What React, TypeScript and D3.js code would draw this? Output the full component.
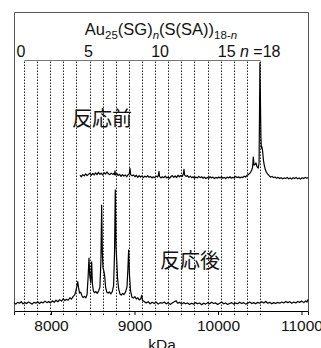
import { useRef, useEffect } from "react";
import * as d3 from "d3";

// bottom axis (mass) ticks
const massTicks = [8000, 9000, 10000, 11000];

// ligand exchange count n: Au25(SG)n(S(SA))18-n
const ligandN = [0, 1, 2, 3, 4, 5, 6, 7, 8, 9, 10, 11, 12, 13, 14, 15, 16, 17, 18];
const topTickN = [0, 5, 10, 15];
const massAtN0 = 7677;
const massPerN = 157;

// spectrum before reaction: [mass, intensity]
const beforeSpectrum = [
  [8347, 0.4], [8364, -0.1], [8381, 0.6], [8398, 0.2], [8415, 0.9], [8432, 0.3], [8449, 0.7], [8466, 1.1],
  [8483, 0.4], [8500, 1.0], [8517, 0.5], [8534, 1.2], [8551, 0.6], [8568, 1.4], [8585, 0.7], [8602, 1.1],
  [8619, 0.5], [8636, 1.3], [8653, 0.8], [8670, 1.5], [8687, 0.9], [8704, 0.6], [8721, 1.1], [8738, 0.7],
  [8752, 1.0], [8760, 0.6], [8766, 1.9], [8772, 0.5], [8788, 1.0], [8805, 0.3], [8822, 0.7], [8839, 0.0],
  [8856, 0.6], [8873, 0.1], [8890, 0.5], [8907, -0.1], [8924, 0.6], [8938, 0.9], [8946, 2.7], [8954, 0.6],
  [8971, 0.2], [8988, 0.5], [9005, -0.1], [9022, 0.4], [9039, -0.3], [9056, 0.3], [9073, -0.2], [9090, 0.2],
  [9107, -0.4], [9124, 0.1], [9141, -0.2], [9158, 0.3], [9175, -0.3], [9192, 0.0], [9209, -0.5], [9226, -0.1],
  [9243, -0.4], [9260, 0.1], [9277, -0.2], [9287, 0.5], [9293, 1.7], [9300, 0.0], [9317, -0.5], [9334, -0.1],
  [9351, -0.4], [9368, 0.1], [9385, -0.5], [9402, -0.2], [9419, -0.6], [9436, -0.1], [9453, 0.3], [9470, -0.3],
  [9487, 0.2], [9504, -0.4], [9521, 0.4], [9538, -0.1], [9555, 0.3], [9572, 0.0], [9586, 0.9], [9593, 2.4],
  [9600, 0.5], [9617, 0.0], [9634, 0.3], [9651, -0.3], [9668, 0.1], [9685, -0.4], [9702, -0.1], [9719, -0.6],
  [9736, -0.2], [9753, -0.5], [9770, 0.0], [9787, -0.4], [9804, -0.1], [9821, -0.6], [9838, -0.2], [9855, -0.7],
  [9872, -0.3], [9889, -0.6], [9906, -0.1], [9923, -0.5], [9940, -0.2], [9957, -0.7], [9974, -0.3], [9991, -0.6],
  [10008, -0.2], [10025, -0.5], [10042, -0.1], [10059, -0.6], [10076, -0.3], [10093, -0.7], [10110, -0.2], [10127, -0.5],
  [10144, -0.1], [10161, -0.6], [10178, -0.3], [10195, -0.5], [10212, 0.0], [10229, -0.4], [10246, -0.1], [10263, -0.5],
  [10280, -0.2], [10297, -0.4], [10314, 0.1], [10331, -0.2], [10346, 0.4], [10360, 0.5], [10374, 0.9], [10388, 1.3],
  [10402, 2.0], [10414, 3.0], [10423, 6.5], [10432, 3.8], [10443, 4.0], [10455, 4.5], [10468, 3.2], [10482, 2.8],
  [10492, 4.5], [10497, 20.0], [10502, 38.0], [10508, 26.0], [10514, 13.0], [10520, 9.5], [10526, 9.9], [10534, 8.6],
  [10544, 5.5], [10554, 3.8], [10566, 2.4], [10580, 1.4], [10596, 0.8], [10612, 0.3], [10630, -0.2], [10648, 0.0],
  [10666, -0.4], [10684, -0.2], [10702, -0.6], [10720, -0.3], [10738, -0.7], [10756, -0.4], [10774, -0.8], [10792, -0.5],
  [10810, -0.7], [10828, -0.3], [10846, -0.8], [10864, -0.5], [10882, -0.9], [10900, -0.4], [10918, -0.7], [10936, -0.3],
  [10954, -0.8], [10972, -0.5], [10990, -0.9], [11008, -0.4], [11026, -0.7], [11044, -0.3], [11062, -0.6], [11078, -0.4],
];

// spectrum after reaction: [mass, intensity]
const afterSpectrum = [
  [7557, 0.3], [7578, -0.2], [7600, 0.4], [7622, 0.1], [7644, 0.6], [7664, -0.1], [7686, 0.3], [7708, 0.0],
  [7730, 0.5], [7752, 0.2], [7774, -0.2], [7796, 0.4], [7818, 0.1], [7840, 0.6], [7862, 0.0], [7884, 0.5],
  [7906, 0.2], [7928, 0.8], [7950, 0.3], [7972, 0.7], [7994, 0.2], [8016, 0.9], [8038, 0.4], [8060, 1.1],
  [8082, 0.6], [8104, 1.3], [8126, 0.8], [8146, 1.6], [8166, 1.0], [8186, 1.4], [8206, 1.1], [8226, 1.9],
  [8246, 1.5], [8266, 2.4], [8284, 2.9], [8298, 4.2], [8310, 5.8], [8320, 7.3], [8330, 5.3], [8342, 3.5],
  [8356, 3.8], [8370, 2.6], [8386, 2.0], [8402, 2.4], [8418, 1.9], [8432, 3.0], [8444, 8.5], [8455, 15.2],
  [8464, 9.5], [8476, 7.0], [8487, 13.9], [8496, 6.5], [8508, 4.2], [8522, 3.6], [8538, 4.0], [8554, 3.4],
  [8570, 4.2], [8586, 5.5], [8598, 14.5], [8607, 32.9], [8615, 17.0], [8623, 11.9], [8632, 11.0], [8642, 9.5],
  [8654, 5.5], [8668, 3.8], [8684, 3.5], [8700, 3.9], [8716, 3.2], [8734, 4.0], [8750, 6.0], [8761, 17.0],
  [8770, 38.0], [8779, 19.0], [8787, 14.5], [8797, 8.5], [8810, 5.0], [8826, 3.2], [8842, 2.8], [8858, 3.4],
  [8874, 3.0], [8892, 3.8], [8910, 5.5], [8921, 11.5], [8930, 17.9], [8940, 9.5], [8952, 4.5], [8968, 2.2],
  [8986, 1.8], [9004, 2.3], [9022, 1.5], [9040, 1.9], [9058, 1.2], [9074, 1.5], [9086, 2.7], [9098, 1.0],
  [9116, 0.7], [9140, 0.2], [9164, 0.6], [9188, -0.1], [9212, 0.4], [9236, 0.0], [9260, 0.5], [9284, -0.2],
  [9308, 0.3], [9332, 0.1], [9356, 0.5], [9380, -0.1], [9404, 0.3], [9428, -0.3], [9452, 0.2], [9476, 0.6],
  [9500, 0.9], [9516, 0.1], [9540, 0.4], [9564, -0.2], [9588, 0.3], [9612, -0.1], [9636, 0.2], [9660, -0.3],
  [9684, 0.1], [9708, -0.2], [9732, 0.3], [9756, -0.1], [9780, 0.2], [9804, -0.4], [9828, 0.1], [9852, -0.2],
  [9876, 0.3], [9900, -0.1], [9924, 0.4], [9948, 0.0], [9972, 0.2], [9996, -0.3], [10020, 0.1], [10044, 0.5],
  [10068, -0.1], [10092, 0.2], [10116, -0.3], [10140, 0.0], [10164, 0.3], [10188, -0.2], [10212, 0.2], [10236, -0.1],
  [10260, 0.4], [10284, 0.0], [10308, 0.3], [10332, -0.2], [10356, 0.1], [10380, 0.5], [10404, 0.0], [10428, 0.3],
  [10452, -0.1], [10476, 0.4], [10500, 0.1], [10524, 0.6], [10548, 0.2], [10572, 0.7], [10596, 0.1], [10620, 0.4],
  [10644, -0.1], [10668, 0.3], [10692, 0.0], [10716, 0.4], [10740, 0.1], [10764, 0.5], [10788, 0.2], [10812, 0.7],
  [10836, 0.3], [10860, 0.6], [10884, 0.1], [10908, 0.5], [10932, 0.2], [10956, 0.7], [10980, 0.4], [11004, 0.8],
  [11028, 0.3], [11050, 0.9], [11066, 0.5], [11078, 1.4],
];

const latin = "'Liberation Sans', Arial, Helvetica, sans-serif";
const cjk = "'Noto Sans CJK JP', 'Noto Sans CJK SC', sans-serif";

function App() {
  const svgRef = useRef(null);

  useEffect(() => {
    const w = 321;
    const h = 348;
    const left = 14;
    const right = 308;
    const top = 12;
    const bottom = 311;
    const topAxisY = 60.5;

    const svg = d3.select(svgRef.current).attr("width", w).attr("height", h);
    svg.selectAll("*").remove();

    const x = d3.scaleLinear().domain([7557, 11078]).range([left, right]);
    const y = d3.scaleLinear().domain([0, 100]).range([bottom, top]);
    const massOf = (n) => massAtN0 + n * massPerN;
    const px = (v) => Math.round(v) + 0.5;

    // frame (top, left, right)
    svg
      .append("path")
      .attr("d", `M${left + 0.5},${bottom}V${top + 0.5}H${right + 0.5}V${bottom}`)
      .attr("fill", "none")
      .attr("stroke", "#555");

    // dotted guides for each n
    svg
      .append("g")
      .selectAll("line")
      .data(ligandN)
      .join("line")
      .attr("x1", (n) => px(x(massOf(n))))
      .attr("x2", (n) => px(x(massOf(n))))
      .attr("y1", topAxisY + 1)
      .attr("y2", bottom + 4)
      .attr("stroke", "#222")
      .attr("stroke-width", 1)
      .attr("stroke-dasharray", "1.5,1.5");

    // top n axis
    svg
      .append("line")
      .attr("x1", px(x(massOf(0))))
      .attr("x2", px(x(massOf(18))))
      .attr("y1", topAxisY)
      .attr("y2", topAxisY)
      .attr("stroke", "#777");

    const nudge = [-3, -1, 5, 6];
    svg
      .append("g")
      .selectAll("text")
      .data(topTickN)
      .join("text")
      .attr("x", (n, i) => x(massOf(n)) + nudge[i])
      .attr("y", 57)
      .attr("text-anchor", "middle")
      .attr("font-family", latin)
      .attr("font-size", 16)
      .attr("fill", "#111")
      .text((n) => n);

    const last = svg
      .append("text")
      .attr("x", x(massOf(18)) - 20)
      .attr("y", 57)
      .attr("font-family", latin)
      .attr("font-size", 16)
      .attr("fill", "#111");
    last.append("tspan").attr("font-style", "italic").text("n");
    last.append("tspan").text(" =18");

    // title
    const title = svg
      .append("text")
      .attr("x", 161)
      .attr("y", 34.5)
      .attr("text-anchor", "middle")
      .attr("font-family", latin)
      .attr("font-size", 16.5)
      .attr("fill", "#111");
    title.append("tspan").text("Au");
    title.append("tspan").attr("dy", 4).attr("font-size", 11.5).text("25");
    title.append("tspan").attr("dy", -4).text("(SG)");
    title.append("tspan").attr("dy", 4).attr("font-size", 11.5).attr("font-style", "italic").text("n");
    title.append("tspan").attr("dy", -4).text("(S(SA))");
    title.append("tspan").attr("dy", 4).attr("font-size", 11.5).text("18-");
    title.append("tspan").attr("font-size", 11.5).attr("font-style", "italic").text("n");

    // spectra
    const beforeOffset = 45;
    const afterOffset = 2.5;
    const line = (offset) =>
      d3
        .line()
        .x((d) => x(d[0]))
        .y((d) => y(offset + d[1]));

    svg
      .append("path")
      .attr("d", line(beforeOffset)(beforeSpectrum))
      .attr("fill", "none")
      .attr("stroke", "#000")
      .attr("stroke-width", 1.2)
      .attr("stroke-linejoin", "round");

    svg
      .append("path")
      .attr("d", line(afterOffset)(afterSpectrum))
      .attr("fill", "none")
      .attr("stroke", "#000")
      .attr("stroke-width", 1.2)
      .attr("stroke-linejoin", "round");

    // bottom mass axis
    const xAxis = d3
      .axisBottom(x)
      .tickValues(massTicks)
      .tickSize(4)
      .tickSizeOuter(4)
      .tickPadding(5)
      .tickFormat(d3.format("d"));
    const gx = svg.append("g").attr("transform", `translate(0, ${bottom})`).call(xAxis);
    gx.attr("font-family", latin).attr("font-size", 15.5);
    gx.selectAll("text").attr("fill", "#111");

    svg
      .append("text")
      .attr("x", 162)
      .attr("y", 349.5)
      .attr("text-anchor", "middle")
      .attr("font-family", latin)
      .attr("font-size", 15.5)
      .attr("fill", "#111")
      .text("kDa");

    // labels
    svg
      .append("text")
      .attr("x", 72)
      .attr("y", 126)
      .attr("font-family", cjk)
      .attr("font-size", 20)
      .attr("fill", "#111")
      .text("反応前");
    svg
      .append("text")
      .attr("x", 160)
      .attr("y", 268)
      .attr("font-family", cjk)
      .attr("font-size", 20)
      .attr("fill", "#111")
      .text("反応後");
  }, []);

  return <svg ref={svgRef} style={{ position: "absolute", left: 0, top: 0 }}></svg>;
}

export default App;
